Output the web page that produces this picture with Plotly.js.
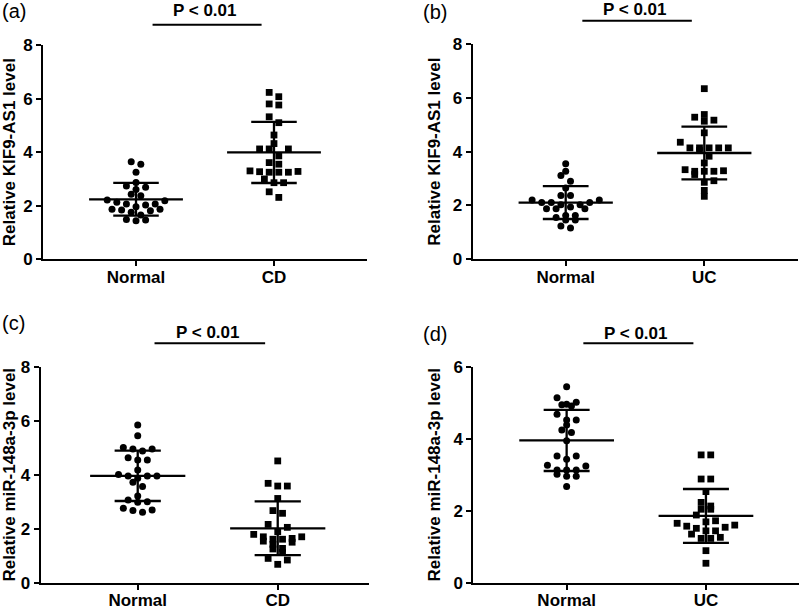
<!DOCTYPE html>
<html><head><meta charset="utf-8">
<script src="https://cdn.plot.ly/plotly-3.0.1.min.js"></script>
<style>html,body{margin:0;padding:0;background:#fff}#chart{width:800px;height:609px}</style>
</head><body><div id="chart"></div>
<script>
// ---- data ----
const catsCD = ['Normal', 'CD'];
const catsUC = ['Normal', 'UC'];

// (a) KIF9-AS1, Normal vs CD
const kifNormalA = [3.64,3.55,3.25,2.87,2.74,2.69,2.61,2.43,2.37,2.21,2.19,2.13,2.06,2.06,2.03,1.96,1.87,1.87,1.84,1.81,1.76,1.65,1.49,1.47,1.44];
const kifCD = [6.23,6.07,5.80,5.76,5.32,5.10,4.64,4.32,4.12,4.12,4.12,3.86,3.61,3.55,3.28,3.25,3.25,3.27,3.25,3.30,3.00,2.86,2.86,2.52,2.31];
// (b) KIF9-AS1, Normal vs UC
const kifNormalB = [3.55,3.27,3.11,2.90,2.65,2.37,2.37,2.20,2.20,2.11,2.11,2.03,2.03,2.11,1.94,1.88,1.88,1.88,1.63,1.63,1.46,1.55,1.46,1.16,1.24];
const kifUC = [6.34,5.38,5.17,5.13,5.28,4.70,4.35,4.14,4.14,4.04,4.14,4.14,4.14,3.83,3.58,3.33,3.27,3.27,3.27,3.29,3.15,2.92,2.86,2.56,2.34];
// (c) miR-148a-3p, Normal vs CD
const mirNormalC = [5.84,5.44,4.95,4.95,5.01,4.88,4.63,4.54,4.54,4.17,4.01,3.95,3.87,3.95,3.95,3.72,3.56,3.21,2.98,3.06,3.00,2.69,2.61,2.67,2.76];
const mirCD = [4.51,3.68,3.58,3.58,3.12,2.57,2.67,2.16,2.05,1.89,1.70,1.64,1.61,1.42,1.50,1.54,1.61,1.70,1.79,1.25,1.27,1.12,0.90,0.84,0.68];
// (d) miR-148a-3p, Normal vs UC
const mirNormalD = [5.44,5.14,4.96,4.91,4.94,5.01,4.68,4.52,4.52,4.38,4.17,4.24,3.94,3.52,3.52,3.43,3.24,3.26,3.13,3.13,3.13,2.96,2.96,3.01,2.67];
const mirUC = [3.55,3.55,2.88,2.88,2.53,2.23,2.04,2.04,2.13,1.88,1.72,1.65,1.69,1.51,1.44,1.57,1.54,1.60,1.44,1.35,1.26,1.23,1.23,0.89,0.54];

const yTitles = ['Relative KIF9-AS1 level','Relative KIF9-AS1 level','Relative miR-148a-3p level','Relative miR-148a-3p level'];
const panelLabels = ['(a)','(b)','(c)','(d)'];
const pText = 'P < 0.01';

// ---- layout geometry (pixels of the 800x609 canvas) ----
const W = 800, H = 609;
const FONT = '"Liberation Sans", Arial, Helvetica, sans-serif';
const panels = [
  {cats: catsCD, groups: [kifNormalA, kifCD], px: [43, 367], py: [45, 259.3], xr: [-0.674, 1.674], yr: [0, 8],
   label: [0, 11], pY: 11, lineY: 24.7},
  {cats: catsUC, groups: [kifNormalB, kifUC], px: [472.7, 798], py: [44, 259.3], xr: [-0.671, 1.676], yr: [0, 8],
   label: [420.7, 12], pY: 9.5, lineY: 20.7},
  {cats: catsCD, groups: [mirNormalC, mirCD], px: [40.7, 369.3], py: [366.7, 582.7], xr: [-0.693, 1.654], yr: [0, 8],
   label: [0, 323], pY: 332.5, lineY: 343.3},
  {cats: catsUC, groups: [mirNormalD, mirUC], px: [473.3, 799], py: [366.7, 582.7], xr: [-0.670, 1.668], yr: [0, 6],
   label: [420.7, 334], pY: 333, lineY: 343.3}
];

function mean(a){ return a.reduce((s,v)=>s+v,0)/a.length; }
function sd(a){ const m=mean(a); return Math.sqrt(a.reduce((s,v)=>s+(v-m)*(v-m),0)/(a.length-1)); }

// GraphPad-style scatter: bin by value, spread each row horizontally (lowest in the middle)
function swarm(values, pxPerUnitY, pxPerCat){
  const binPx = 8.5, stepPx = 9.6;
  const h = binPx / pxPerUnitY;
  const bins = {};
  values.forEach((v,i)=>{ const k = Math.floor(v/h); (bins[k] = bins[k] || []).push(i); });
  const off = new Array(values.length).fill(0);
  Object.values(bins).forEach(idx=>{
    idx.sort((a,b)=>values[a]-values[b]);
    const n = idx.length, slots = [];
    if (n % 2) { slots.push(0); for (let k=1; slots.length<n; k++){ slots.push(k); if (slots.length<n) slots.push(-k); } }
    else { for (let k=0; slots.length<n; k++){ slots.push(k+0.5); slots.push(-(k+0.5)); } }
    idx.forEach((j,t)=>{ off[j] = slots[t]*stepPx/pxPerCat; });
  });
  return off;
}

const traces = [], shapes = [], annotations = [];
const layout = {
  width: W, height: H, margin: {l:0, r:0, t:0, b:0},
  paper_bgcolor: '#fff', plot_bgcolor: '#fff', showlegend: false,
  font: {family: FONT, color: '#000'}
};

panels.forEach((p, k) => {
  const n = k === 0 ? '' : String(k+1);
  const xa = 'xaxis' + n, ya = 'yaxis' + n, xid = 'x' + n, yid = 'y' + n;
  const xdom = [p.px[0]/W, p.px[1]/W];
  const ydom = [1 - p.py[1]/H, 1 - p.py[0]/H];
  const pxPerCat = (p.px[1]-p.px[0])/(p.xr[1]-p.xr[0]);
  const pxPerUnitY = (p.py[1]-p.py[0])/(p.yr[1]-p.yr[0]);
  const axisFont = {family: FONT, size: 17, color: '#000', weight: 'bold'};

  layout[xa] = {domain: xdom, range: p.xr, anchor: yid, tickmode: 'array', tickvals: [0,1], ticktext: p.cats,
    showline: true, linecolor: '#000', linewidth: 2, ticks: 'outside', ticklen: 5, tickwidth: 2, tickcolor: '#000',
    ticklabelstandoff: -4,
    showgrid: false, zeroline: false, tickfont: axisFont, fixedrange: true};
  layout[ya] = {domain: ydom, range: p.yr, anchor: xid, tick0: 0, dtick: 2,
    showline: true, linecolor: '#000', linewidth: 2, ticks: 'outside', ticklen: 5, tickwidth: 2, tickcolor: '#000',
    showgrid: false, zeroline: false, tickfont: axisFont, fixedrange: true,
    title: {text: yTitles[k], font: axisFont, standoff: 8}};

  p.groups.forEach((vals, gi) => {
    const off = swarm(vals, pxPerUnitY, pxPerCat);
    traces.push({type: 'scatter', mode: 'markers', xaxis: xid, yaxis: yid,
      x: vals.map((v,i)=>gi + off[i]), y: vals, cliponaxis: false,
      marker: {symbol: gi === 0 ? 'circle' : 'square', size: gi === 0 ? 7 : 6.8, color: '#000', line: {width: 0}},
      hoverinfo: 'y'});
    const m = mean(vals), s = sd(vals);
    traces.push({type: 'scatter', mode: 'lines', xaxis: xid, yaxis: yid, cliponaxis: false,
      x: [gi-0.34, gi+0.34, null, gi-0.165, gi+0.165, null, gi-0.165, gi+0.165, null, gi, gi],
      y: [m, m, null, m+s, m+s, null, m-s, m-s, null, m-s, m+s],
      line: {color: '#000', width: 2.3}, hoverinfo: 'skip'});
  });

  // significance bracket
  const toPaperX = v => xdom[0] + (v - p.xr[0])/(p.xr[1]-p.xr[0])*(xdom[1]-xdom[0]);
  shapes.push({type: 'line', xref: 'paper', yref: 'paper', x0: toPaperX(0.12), x1: toPaperX(0.91),
    y0: 1 - p.lineY/H, y1: 1 - p.lineY/H, line: {color: '#000', width: 2}});
  annotations.push({xref: 'paper', yref: 'paper', x: toPaperX(0.5), y: 1 - p.pY/H, xanchor: 'center', yanchor: 'middle',
    text: pText, showarrow: false, font: {family: FONT, size: 17, color: '#000', weight: 'bold'}});
  annotations.push({xref: 'paper', yref: 'paper', x: p.label[0]/W, y: 1 - p.label[1]/H, xanchor: 'left', yanchor: 'middle',
    text: panelLabels[k], showarrow: false, font: {family: FONT, size: 20, color: '#000'}});
});

layout.shapes = shapes;
layout.annotations = annotations;
Plotly.newPlot('chart', traces, layout, {displayModeBar: false, staticPlot: true});
</script></body></html>
